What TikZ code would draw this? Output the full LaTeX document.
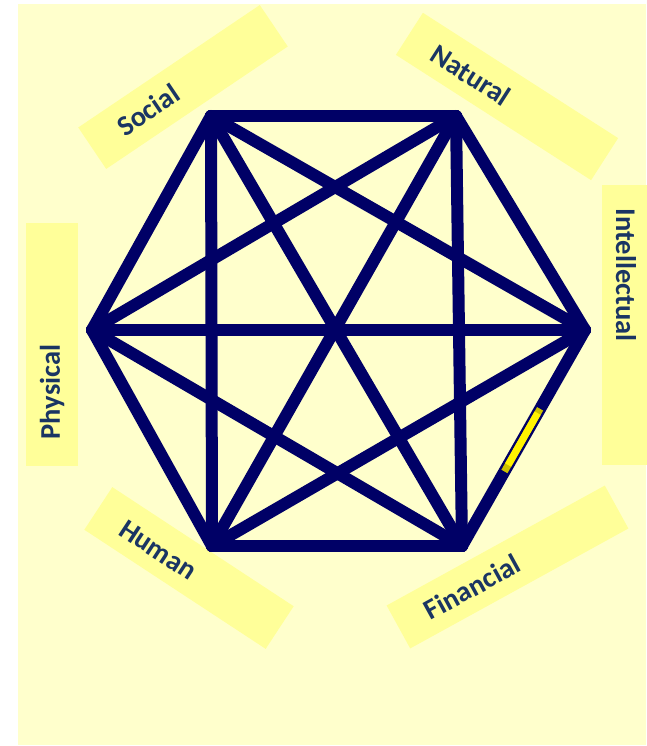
\documentclass[tikz,border=0pt]{standalone}
\usepackage{fontspec}
\setmainfont{Carlito}
\usetikzlibrary{calc}
\definecolor{bgyellow}{HTML}{FFFFCC}
\definecolor{boxyellow}{HTML}{FFFF99}
\definecolor{edgenavy}{HTML}{000066}
\definecolor{textnavy}{HTML}{1A3563}
\begin{document}
\begin{tikzpicture}[x=1pt,y=1pt,
  labelbox/.style={fill=boxyellow,draw=none,inner sep=0pt,minimum width=#1,minimum height=50pt},
  labeltext/.style={text=textnavy,font=\fontsize{28.5}{31}\selectfont\bfseries,inner sep=0pt},
  edge/.style={draw=edgenavy,line width=12pt,line cap=round,line join=round}]
\useasboundingbox (0,0) rectangle (646,746);
\fill[bgyellow] (18,1) rectangle (646,742);
% label boxes
\node[labelbox=219pt,rotate=34] (bsoc) at (183,659) {};
\node[labelbox=232pt,rotate=-32.7] (bnat) at (507,649.5) {};
\node[labelbox=243pt,minimum height=52pt,rotate=90] (bphy) at (52,401.5) {};
\node[labelbox=280pt,minimum height=52pt,rotate=-90] (bint) at (628,421) {};
\node[labelbox=217pt,minimum height=51pt,rotate=-33.3] (bhum) at (189,178) {};
\node[labelbox=249pt,minimum height=49pt,rotate=28.8] (bfin) at (507.5,179) {};
% labels
\node[labeltext,rotate=34] (tsoc) at (148,636) {Social};
\node[labeltext,rotate=-32.7] (tnat) at (471,671) {Natural};
\node[labeltext,rotate=90] (tphy) at (52,354) {Physical};
\node[labeltext,rotate=-90] (tint) at (626,471) {Intellectual};
\node[labeltext,rotate=-33.3] (thum) at (158,196) {Human};
\node[labeltext,rotate=28.8] (tfin) at (472,159) {Financial};
% vertices
\coordinate (TL) at (211,630);
\coordinate (TR) at (456,630);
\coordinate (L) at (92,416);
\coordinate (R) at (585,416);
\coordinate (BL) at (212,200);
\coordinate (BR) at (462,200);
% edges (complete graph)
\draw[edge] (TL) -- (TR);
\draw[edge] (TR) -- (R);
\draw[edge] (R) -- (BR);
\draw[edge] (BR) -- (BL);
\draw[edge] (BL) -- (L);
\draw[edge] (L) -- (TL);
\draw[edge] (TL) -- (BL);
\draw[edge] (TR) -- (BR);
\draw[edge] (L) -- (R);
\draw[edge] (TL) -- (R);
\draw[edge] (TL) -- (BR);
\draw[edge] (TR) -- (L);
\draw[edge] (TR) -- (BL);
\draw[edge] (BL) -- (R);
\draw[edge] (BR) -- (L);
% yellow highlight glitch
\draw[line width=7pt,color=yellow!55!olive] ($(R)!0.365!(BR)$) -- ($(R)!0.655!(BR)$);
\draw[line width=7pt,color=yellow] ($(R)!0.385!(BR)$) -- ($(R)!0.625!(BR)$);
\end{tikzpicture}
\end{document}
